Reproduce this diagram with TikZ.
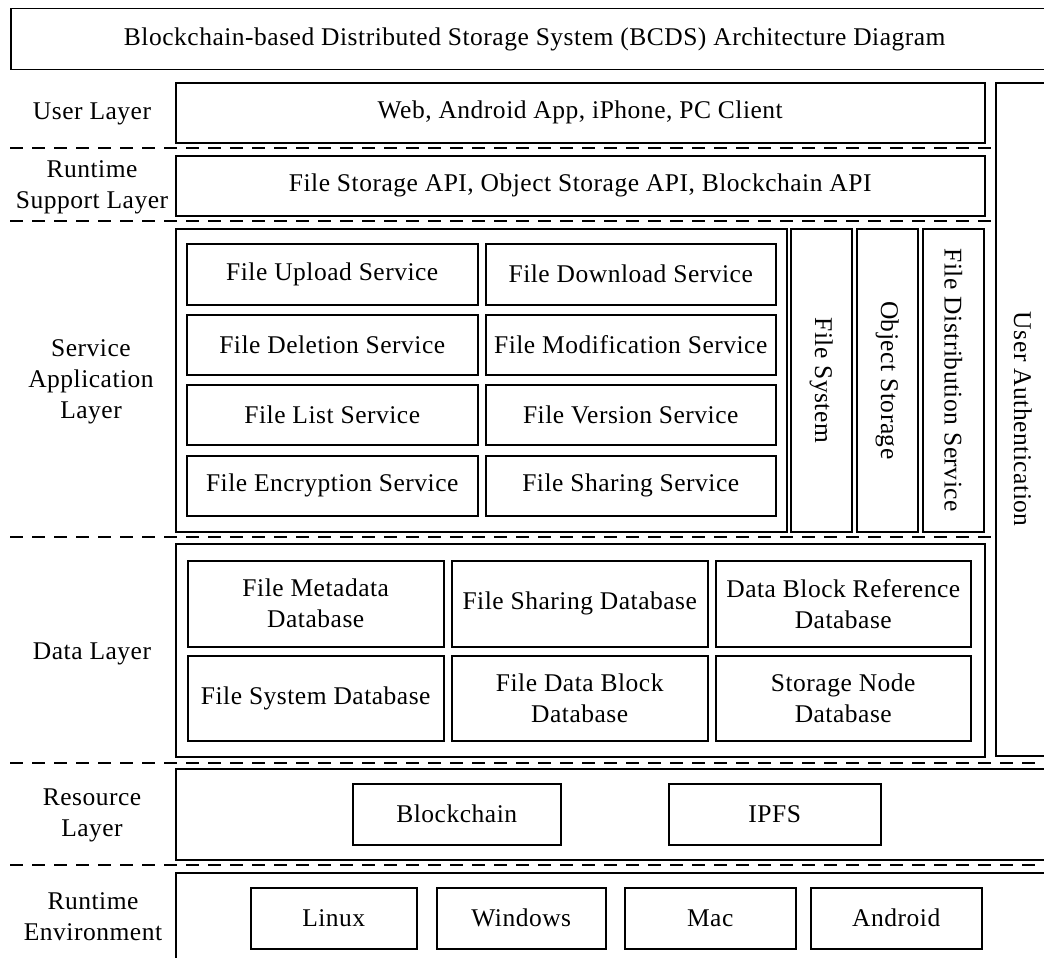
\documentclass[tikz,border=0pt]{standalone}
\usepackage{fontspec}
\setmainfont{Liberation Serif}[LetterSpace=2]
\begin{document}
\begin{tikzpicture}[x=1pt,y=-1pt,
  box/.style={draw,line width=1.5pt,anchor=north west,inner sep=0pt,align=center,font=\fontsize{25.5}{31}\selectfont},
  lbl/.style={align=center,font=\fontsize{25.5}{31}\selectfont},
  sep/.style={line width=1.5pt,dash pattern=on 13pt off 9pt}]
\useasboundingbox (0,0) rectangle (1044,958);
\begin{scope}
\clip (0,0) rectangle (1044,958);
% title
\node[box,minimum width=1048pt,minimum height=61pt] (title) at (10,8) {Blockchain-based Distributed Storage System (BCDS) Architecture Diagram};
% left labels
\node[lbl] (lUser) at (92,114) {User Layer};
\node[lbl] (lRts) at (92,187) {Runtime\\Support Layer};
\node[lbl] (lSvc) at (91,382) {Service\\Application\\Layer};
\node[lbl] (lData) at (92,654) {Data Layer};
\node[lbl] (lRes) at (92,815) {Resource\\Layer};
\node[lbl] (lEnv) at (93,917) {Runtime\\Environment};
% user auth
\node[box,minimum width=54pt,minimum height=673pt] (auth) at (995,82) {};
\node[lbl,rotate=-90] (authT) at (auth.center) {User Authentication};
% user layer
\node[box,minimum width=809pt,minimum height=60pt] (user) at (175,82) {Web, Android App, iPhone, PC Client};
\node[box,minimum width=809pt,minimum height=60pt] (rts) at (175,155) {File Storage API, Object Storage API, Blockchain API};
% service layer
\node[box,minimum width=611pt,minimum height=303pt] (svc) at (175,228) {};
\node[box,minimum width=291pt,minimum height=61pt] (s11) at (186,243) {File Upload Service};
\node[box,minimum width=290pt,minimum height=61pt] (s12) at (485,243) {File Download Service};
\node[box,minimum width=291pt,minimum height=60pt] (s21) at (186,314) {File Deletion Service};
\node[box,minimum width=290pt,minimum height=60pt] (s22) at (485,314) {File Modification Service};
\node[box,minimum width=291pt,minimum height=60pt] (s31) at (186,384) {File List Service};
\node[box,minimum width=290pt,minimum height=60pt] (s32) at (485,384) {File Version Service};
\node[box,minimum width=291pt,minimum height=60pt] (s41) at (186,455) {File Encryption Service};
\node[box,minimum width=290pt,minimum height=60pt] (s42) at (485,455) {File Sharing Service};
\node[box,minimum width=61pt,minimum height=303pt] (fs) at (790,228) {};
\node[lbl,rotate=-90] (fsT) at (fs.center) {File System};
\node[box,minimum width=61pt,minimum height=303pt] (os) at (856,228) {};
\node[lbl,rotate=-90] (osT) at (os.center) {Object Storage};
\node[box,minimum width=61pt,minimum height=303pt] (fd) at (922,228) {};
\node[lbl,rotate=-90] (fdT) at (fd.center) {File Distribution Service};
% data layer
\node[box,minimum width=809pt,minimum height=213pt] (data) at (175,543) {};
\node[box,minimum width=256pt,minimum height=86pt] (d11) at (187,560) {File Metadata\\Database};
\node[box,minimum width=256pt,minimum height=86pt] (d12) at (451,560) {File Sharing Database};
\node[box,minimum width=255pt,minimum height=86pt] (d13) at (715,560) {Data Block Reference\\Database};
\node[box,minimum width=256pt,minimum height=85pt] (d21) at (187,655) {File System Database};
\node[box,minimum width=256pt,minimum height=85pt] (d22) at (451,655) {File Data Block\\Database};
\node[box,minimum width=255pt,minimum height=85pt] (d23) at (715,655) {Storage Node\\Database};
% resource
\node[box,minimum width=890pt,minimum height=91pt] (res) at (175,768) {};
\node[box,minimum width=208pt,minimum height=61pt] (bc) at (352,783) {Blockchain};
\node[box,minimum width=212pt,minimum height=61pt] (ipfs) at (668,783) {IPFS};
% runtime env
\node[box,minimum width=890pt,minimum height=110pt] (env) at (175,872) {};
\node[box,minimum width=166pt,minimum height=61pt] (linux) at (250,887) {Linux};
\node[box,minimum width=169pt,minimum height=61pt] (win) at (436,887) {Windows};
\node[box,minimum width=171pt,minimum height=61pt] (mac) at (624,887) {Mac};
\node[box,minimum width=171pt,minimum height=61pt] (android) at (810,887) {Android};
% separators
\coordinate (a1) at (10,148); \coordinate (a2) at (auth.west |- a1);
\coordinate (b1) at (10,221); \coordinate (b2) at (auth.west |- b1);
\coordinate (c1) at (10,537); \coordinate (c2) at (auth.west |- c1);
\coordinate (e1) at (10,763); \coordinate (e2) at (1044,763);
\coordinate (f1) at (10,865); \coordinate (f2) at (1044,865);
\draw[sep] (a1) -- (a2);
\draw[sep] (b1) -- (b2);
\draw[sep] (c1) -- (c2);
\draw[sep] (e1) -- (e2);
\draw[sep] (f1) -- (f2);
\end{scope}
\end{tikzpicture}
\end{document}
